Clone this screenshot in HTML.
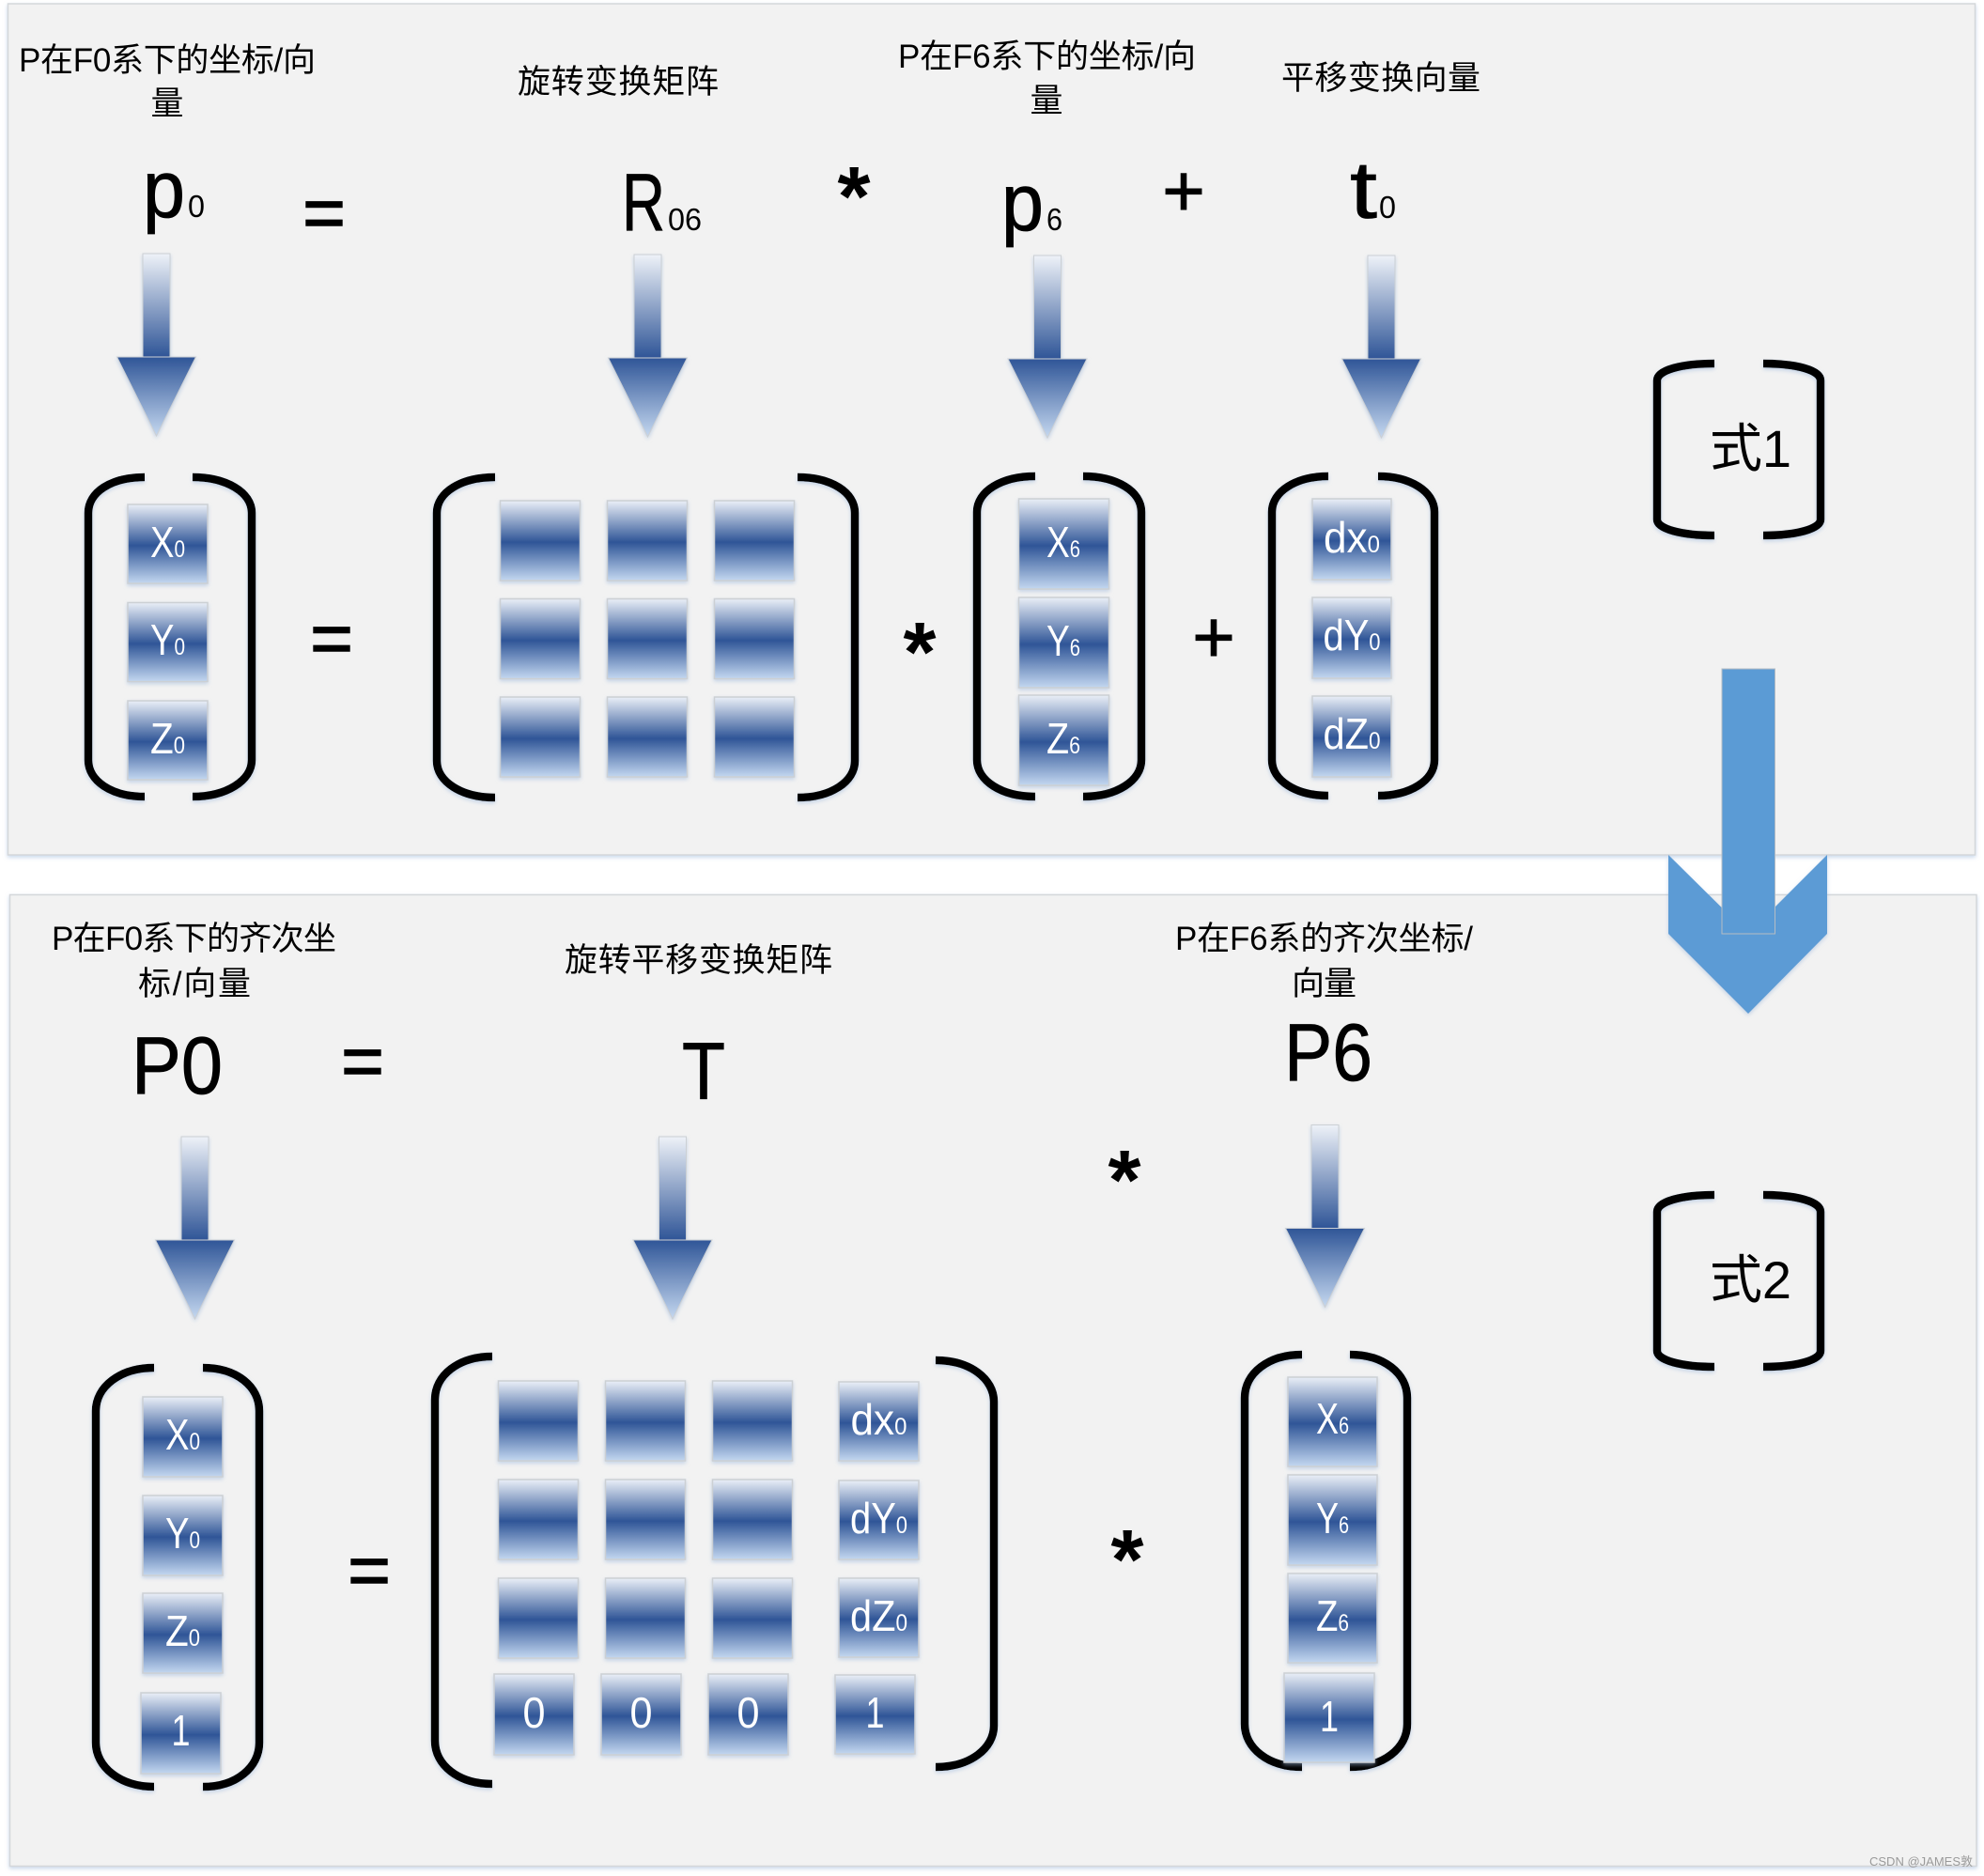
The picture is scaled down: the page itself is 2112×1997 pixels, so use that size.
<!DOCTYPE html>
<html><head><meta charset="utf-8">
<style>
html,body{margin:0;padding:0;background:#fff;width:2112px;height:1997px;overflow:hidden}
svg{display:block}
text{font-family:"Liberation Sans","Noto Sans CJK SC",sans-serif;fill:#000}
.l{font-size:35px}
.s{fill:#fff;font-size:46px}
.s tspan{font-size:25px}
.br{fill:none;stroke:#000;stroke-width:8.5}
.b{fill:url(#gb);stroke:#ccd0d4;stroke-width:1.5}
.sh{fill:url(#gs);stroke:#ccd0d4;stroke-width:1}
.hd{fill:url(#gh);stroke:#ccd0d4;stroke-width:1}
.big{font-size:86px;stroke:#000;stroke-width:.8}
.sub{font-size:33px}
.op{font-size:78px}
.st{font-size:90px;font-weight:bold}
</style></head><body>
<svg width="2112" height="1997" viewBox="0 0 2112 1997" xmlns="http://www.w3.org/2000/svg">
<defs>
<linearGradient id="gb" x1="0" y1="0" x2="0" y2="1"><stop offset="0" stop-color="#eaeff7"/><stop offset=".52" stop-color="#2f5597"/><stop offset="1" stop-color="#c3d7f0"/></linearGradient>
<linearGradient id="gs" x1="0" y1="0" x2="0" y2="1"><stop offset="0" stop-color="#eef2f8"/><stop offset="1" stop-color="#2f5597"/></linearGradient>
<linearGradient id="gh" x1="0" y1="0" x2="0" y2="1"><stop offset="0" stop-color="#2f5597"/><stop offset="1" stop-color="#c5d8f0"/></linearGradient>
<filter id="f" x="-20%" y="-20%" width="140%" height="140%"><feDropShadow dx="0" dy="2" stdDeviation="2" flood-color="#9db8dc" flood-opacity=".55"/></filter>
</defs>

<rect x="8.5" y="4" width="2094" height="906" fill="#f2f2f2" stroke="#d4d7da" stroke-width="1.5" filter="url(#f)"/>
<rect x="10.5" y="952.500" width="2093.500" height="1034" fill="#f2f2f2" stroke="#d4d7da" stroke-width="1.5" filter="url(#f)"/>

<!-- big arrow -->
<path d="M1776 910 L1861 994 L1945 910 V994 L1861 1079 L1776 994 Z" fill="#5b9bd5" filter="url(#f)"/>
<rect x="1833" y="712" width="56.5" height="282" fill="#5b9bd5" stroke="#b4bcc4" stroke-width="1"/>

<!-- labels -->
<text class="l" x="20" y="76" textLength="316" lengthAdjust="spacing">P在F0系下的坐标/向</text>
<text class="l" x="178" y="122" text-anchor="middle">量</text>
<text class="l" x="551" y="99" textLength="214" lengthAdjust="spacing">旋转变换矩阵</text>
<text class="l" x="956" y="72" textLength="317" lengthAdjust="spacing">P在F6系下的坐标/向</text>
<text class="l" x="1114" y="119" text-anchor="middle">量</text>
<text class="l" x="1364" y="95" textLength="212" lengthAdjust="spacing">平移变换向量</text>
<text class="l" x="55" y="1011" textLength="303" lengthAdjust="spacing">P在F0系下的齐次坐</text>
<text class="l" x="147" y="1059" textLength="120" lengthAdjust="spacing">标/向量</text>
<text class="l" x="601" y="1034" textLength="285" lengthAdjust="spacing">旋转平移变换矩阵</text>
<text class="l" x="1251" y="1011" textLength="317" lengthAdjust="spacing">P在F6系的齐次坐标/</text>
<text class="l" x="1375" y="1059" textLength="69" lengthAdjust="spacing">向量</text>

<!-- symbols -->
<text class="big" x="152" y="231" textLength="45" lengthAdjust="spacingAndGlyphs">p</text>
<text class="sub" x="200" y="231" textLength="18" lengthAdjust="spacingAndGlyphs">0</text>
<text class="big" x="662" y="245" textLength="46" lengthAdjust="spacingAndGlyphs">R</text>
<text class="sub" x="711" y="245" textLength="36" lengthAdjust="spacingAndGlyphs">06</text>
<text class="big" x="1066" y="245" textLength="45" lengthAdjust="spacingAndGlyphs">p</text>
<text class="sub" x="1114" y="245" textLength="17" lengthAdjust="spacingAndGlyphs">6</text>
<text class="big" x="1437" y="232" textLength="29" lengthAdjust="spacingAndGlyphs">t</text>
<text class="sub" x="1468" y="232" textLength="18" lengthAdjust="spacingAndGlyphs">0</text>
<text class="big" x="140" y="1164" textLength="97" lengthAdjust="spacingAndGlyphs">P0</text>
<text class="big" x="726" y="1170" textLength="46" lengthAdjust="spacingAndGlyphs">T</text>
<text class="big" x="1367" y="1150" textLength="94" lengthAdjust="spacingAndGlyphs">P6</text>

<text class="op" x="345" y="253" text-anchor="middle" stroke="#000" stroke-width="1.5">=</text>
<text class="op" x="353" y="706" text-anchor="middle" stroke="#000" stroke-width="1.5">=</text>
<text class="op" x="386" y="1156" text-anchor="middle" stroke="#000" stroke-width="1.5">=</text>
<text class="op" x="393" y="1698" text-anchor="middle" stroke="#000" stroke-width="1.5">=</text>
<text class="st" x="909" y="240" text-anchor="middle">*</text>
<text class="st" x="979" y="725" text-anchor="middle">*</text>
<text class="st" x="1197" y="1287" text-anchor="middle">*</text>
<text class="st" x="1200" y="1691" text-anchor="middle">*</text>
<text class="op" x="1260" y="230" text-anchor="middle" stroke="#000" stroke-width="1">+</text>
<text class="op" x="1292" y="705" text-anchor="middle" stroke="#000" stroke-width="1">+</text>

<text x="1820" y="497" font-size="56" textLength="87" lengthAdjust="spacing">式1</text>
<text x="1820" y="1382" font-size="56" textLength="87" lengthAdjust="spacing">式2</text>

<!-- arrows -->
<g filter="url(#f)">
<rect class="sh" x="152" y="270" width="29" height="110"/><path class="hd" d="M124.5 380H208.5L166.5 464Z"/>
<rect class="sh" x="675" y="271" width="29" height="110"/><path class="hd" d="M647.5 381H731.5L689.5 465Z"/>
<rect class="sh" x="1100.500" y="272" width="29" height="110"/><path class="hd" d="M1073 382H1157L1115 466Z"/>
<rect class="sh" x="1456" y="272" width="29" height="110"/><path class="hd" d="M1428.500 382H1512.500L1470.500 466Z"/>
<rect class="sh" x="193" y="1210" width="29" height="110"/><path class="hd" d="M165.500 1320H249.500L207.500 1404Z"/>
<rect class="sh" x="701.500" y="1210" width="29" height="110"/><path class="hd" d="M674 1320H758L716 1404Z"/>
<rect class="sh" x="1396" y="1197.500" width="29" height="110"/><path class="hd" d="M1368.500 1307.500H1452.500L1410.500 1391.500Z"/>
</g>

<!-- brackets -->
<g class="br" filter="url(#f)">
<path d="M154 508C118 508 94 524 94 546V809C94 831 118 848 154 848"/>
<path d="M205 508C241 508 268 524 268 546V809C268 831 241 848 205 848"/>
<path d="M527 508C491 508 465 524 465 546V810C465 832 491 849 527 849"/>
<path d="M849 508C885 508 910 524 910 546V810C910 832 885 849 849 849"/>
<path d="M1102 507C1066 507 1040 523 1040 545V809C1040 831 1066 848 1102 848"/>
<path d="M1153 507C1189 507 1215 523 1215 545V809C1215 831 1189 848 1153 848"/>
<path d="M1414 507C1380 507 1354 523 1354 545V809C1354 831 1380 847 1414 847"/>
<path d="M1467 507C1501 507 1527 523 1527 545V809C1527 831 1501 847 1467 847"/>
<path d="M1825 387C1790 387 1764 394 1764 405V553C1764 563 1790 570 1825 570"/>
<path d="M1877 387C1912 387 1938 394 1938 405V553C1938 563 1912 570 1877 570"/>
<path d="M1825 1272C1790 1272 1764 1279 1764 1290V1438C1764 1448 1790 1455 1825 1455"/>
<path d="M1877 1272C1912 1272 1938 1279 1938 1290V1438C1938 1448 1912 1455 1877 1455"/>
<path d="M164 1456C128 1456 102 1476 102 1502V1855C102 1881 128 1902 164 1902"/>
<path d="M216 1456C252 1456 276 1476 276 1502V1855C276 1881 252 1902 216 1902"/>
<path d="M524 1444C488 1444 463 1464 463 1490V1853C463 1879 488 1899 524 1899"/>
<path d="M996 1448C1033 1448 1058 1468 1058 1492V1837C1058 1861 1033 1881 996 1881"/>
<path d="M1386 1442C1350 1442 1325 1462 1325 1488V1835C1325 1861 1350 1881 1386 1881"/>
<path d="M1437 1442C1473 1442 1498 1462 1498 1488V1835C1498 1861 1473 1881 1437 1881"/>
</g>

<!-- boxes -->
<g filter="url(#f)">
<rect class="b" x="136" y="537" width="85" height="84"/><rect class="b" x="136" y="641.500" width="85" height="84"/><rect class="b" x="136" y="746" width="85" height="84"/>
<rect class="b" x="532.500" y="533" width="85" height="85"/><rect class="b" x="646.500" y="533" width="85" height="85"/><rect class="b" x="760.500" y="533" width="85" height="85"/>
<rect class="b" x="532.500" y="637.500" width="85" height="85"/><rect class="b" x="646.500" y="637.500" width="85" height="85"/><rect class="b" x="760.500" y="637.500" width="85" height="85"/>
<rect class="b" x="532.500" y="742" width="85" height="85"/><rect class="b" x="646.500" y="742" width="85" height="85"/><rect class="b" x="760.500" y="742" width="85" height="85"/>
<rect class="b" x="1084.500" y="531" width="96" height="96"/><rect class="b" x="1084.500" y="636" width="96" height="96"/><rect class="b" x="1084.500" y="740" width="96" height="96"/>
<rect class="b" x="1397" y="531" width="84" height="86"/><rect class="b" x="1397" y="636" width="84" height="86"/><rect class="b" x="1397" y="741" width="84" height="86"/>
<rect class="b" x="152" y="1487" width="85" height="85"/><rect class="b" x="152" y="1592" width="85" height="85"/><rect class="b" x="152" y="1696" width="85" height="85"/><rect class="b" x="150" y="1802" width="85" height="86"/>
<rect class="b" x="530.500" y="1470" width="85" height="85"/><rect class="b" x="644.500" y="1470" width="85" height="85"/><rect class="b" x="758.500" y="1470" width="85" height="85"/>
<rect class="b" x="530.500" y="1575" width="85" height="85"/><rect class="b" x="644.500" y="1575" width="85" height="85"/><rect class="b" x="758.500" y="1575" width="85" height="85"/>
<rect class="b" x="530.500" y="1680" width="85" height="85"/><rect class="b" x="644.500" y="1680" width="85" height="85"/><rect class="b" x="758.500" y="1680" width="85" height="85"/>
<rect class="b" x="526" y="1782" width="85" height="86"/><rect class="b" x="640" y="1782" width="85" height="86"/><rect class="b" x="754" y="1782" width="85" height="86"/>
<rect class="b" x="893" y="1471" width="85" height="84"/><rect class="b" x="893" y="1576" width="85" height="84"/><rect class="b" x="893" y="1680" width="85" height="84"/><rect class="b" x="889" y="1783" width="85" height="84"/>
<rect class="b" x="1371" y="1466" width="95" height="95"/><rect class="b" x="1371" y="1570" width="95" height="96"/><rect class="b" x="1371" y="1675" width="95" height="95"/><rect class="b" x="1367" y="1781" width="96" height="95"/>
</g>

<!-- box text -->
<text class="s" text-anchor="middle" x="178.500" y="593" textLength="37" lengthAdjust="spacingAndGlyphs">X<tspan>0</tspan></text>
<text class="s" text-anchor="middle" x="178.500" y="697" textLength="37" lengthAdjust="spacingAndGlyphs">Y<tspan>0</tspan></text>
<text class="s" text-anchor="middle" x="178.500" y="802" textLength="37" lengthAdjust="spacingAndGlyphs">Z<tspan>0</tspan></text>
<text class="s" text-anchor="middle" x="1132" y="593" textLength="36" lengthAdjust="spacingAndGlyphs">X<tspan>6</tspan></text>
<text class="s" text-anchor="middle" x="1132" y="698" textLength="36" lengthAdjust="spacingAndGlyphs">Y<tspan>6</tspan></text>
<text class="s" text-anchor="middle" x="1132" y="802" textLength="36" lengthAdjust="spacingAndGlyphs">Z<tspan>6</tspan></text>
<text class="s" text-anchor="middle" x="1439" y="588" textLength="60" lengthAdjust="spacingAndGlyphs">dx<tspan>0</tspan></text>
<text class="s" text-anchor="middle" x="1439" y="692" textLength="61" lengthAdjust="spacingAndGlyphs">dY<tspan>0</tspan></text>
<text class="s" text-anchor="middle" x="1439" y="797" textLength="61" lengthAdjust="spacingAndGlyphs">dZ<tspan>0</tspan></text>
<text class="s" text-anchor="middle" x="194.500" y="1543" textLength="37" lengthAdjust="spacingAndGlyphs">X<tspan>0</tspan></text>
<text class="s" text-anchor="middle" x="194.500" y="1648" textLength="37" lengthAdjust="spacingAndGlyphs">Y<tspan>0</tspan></text>
<text class="s" text-anchor="middle" x="194.500" y="1752" textLength="37" lengthAdjust="spacingAndGlyphs">Z<tspan>0</tspan></text>
<text class="s" text-anchor="middle" x="192.500" y="1858" textLength="20" lengthAdjust="spacingAndGlyphs">1</text>
<text class="s" text-anchor="middle" x="568.500" y="1839" textLength="24" lengthAdjust="spacingAndGlyphs">0</text>
<text class="s" text-anchor="middle" x="682.500" y="1839" textLength="24" lengthAdjust="spacingAndGlyphs">0</text>
<text class="s" text-anchor="middle" x="796.500" y="1839" textLength="24" lengthAdjust="spacingAndGlyphs">0</text>
<text class="s" text-anchor="middle" x="935.500" y="1527" textLength="60" lengthAdjust="spacingAndGlyphs">dx<tspan>0</tspan></text>
<text class="s" text-anchor="middle" x="935.500" y="1632" textLength="61" lengthAdjust="spacingAndGlyphs">dY<tspan>0</tspan></text>
<text class="s" text-anchor="middle" x="935.500" y="1736" textLength="61" lengthAdjust="spacingAndGlyphs">dZ<tspan>0</tspan></text>
<text class="s" text-anchor="middle" x="931.500" y="1839" textLength="20" lengthAdjust="spacingAndGlyphs">1</text>
<text class="s" text-anchor="middle" x="1418.500" y="1526" textLength="35" lengthAdjust="spacingAndGlyphs">X<tspan>6</tspan></text>
<text class="s" text-anchor="middle" x="1418.500" y="1632" textLength="35" lengthAdjust="spacingAndGlyphs">Y<tspan>6</tspan></text>
<text class="s" text-anchor="middle" x="1418.500" y="1736" textLength="35" lengthAdjust="spacingAndGlyphs">Z<tspan>6</tspan></text>
<text class="s" text-anchor="middle" x="1415" y="1843" textLength="20" lengthAdjust="spacingAndGlyphs">1</text>

<text x="1990" y="1986" font-size="13" style="fill:#9a9a9a">CSDN @JAMES敦</text>
</svg>
</body></html>
